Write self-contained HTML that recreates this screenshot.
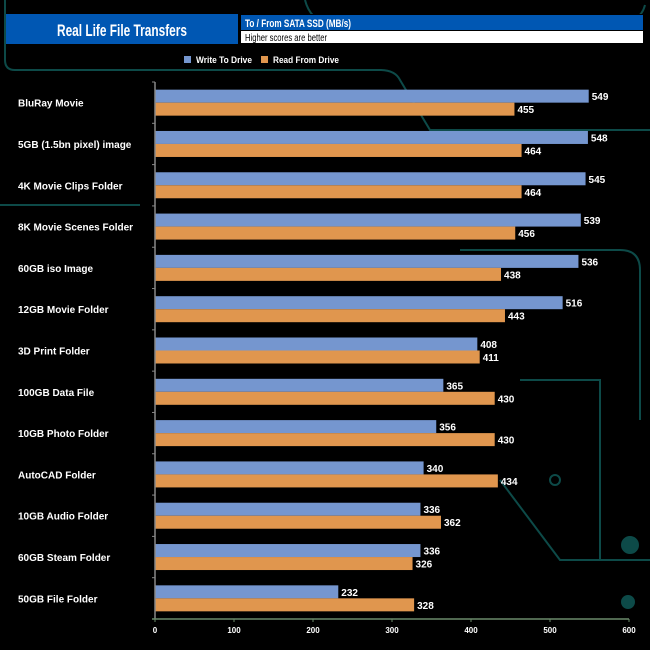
<!DOCTYPE html>
<html><head><meta charset="utf-8"><style>
body{margin:0;background:#000;}
svg{display:block;font-family:"Liberation Sans",Arial,sans-serif;}
</style></head><body>
<svg id="chart" width="650" height="650" viewBox="0 0 650 650">
<g stroke="#0d4a48" stroke-width="2" fill="none">
<path d="M5 0 V60 Q5 70 15 70 H380 Q395 70 400 80 L430 130 H650"/>
<path d="M305 0 Q310 20 330 25 H610 Q640 25 645 5"/>
<path d="M460 250 H620 Q640 250 640 270 V420"/>
<path d="M500 480 L560 560 H650"/>
<path d="M0 205 H140"/>
<path d="M520 380 H600 V560"/>
<circle cx="630" cy="545" r="8" fill="#0d4a48"/>
<circle cx="628" cy="602" r="6" fill="#0d4a48"/>
<circle cx="555" cy="480" r="5"/>
</g>
<rect x="6" y="14" width="232" height="30" fill="#0057b3"/>
<text x="57" y="36" textLength="130" lengthAdjust="spacingAndGlyphs" fill="#fff" font-size="17" font-weight="bold">Real Life File Transfers</text>
<rect x="238" y="14" width="406" height="30" fill="#000"/>
<rect x="241" y="15" width="402" height="15" fill="#0057b3"/>
<text x="245" y="27" textLength="106" lengthAdjust="spacingAndGlyphs" fill="#fff" font-size="11" font-weight="bold">To /  From SATA SSD (MB/s)</text>
<rect x="241" y="31" width="402" height="12" fill="#fff"/>
<text x="245" y="41" textLength="82" lengthAdjust="spacingAndGlyphs" fill="#000" font-size="10">Higher scores are better</text>
<g font-size="9" font-weight="bold" fill="#fff">
<rect x="184" y="56" width="7" height="7" fill="#7596cf"/>
<text x="196" y="63" textLength="56" lengthAdjust="spacingAndGlyphs">Write To  Drive</text>
<rect x="261" y="56" width="7" height="7" fill="#e0964e"/>
<text x="273" y="63" textLength="66" lengthAdjust="spacingAndGlyphs">Read From  Drive</text>
</g>
<g id="plot"></g>
</svg>
<script>
const categories=["BluRay Movie","5GB (1.5bn pixel) image","4K Movie Clips Folder","8K Movie Scenes Folder","60GB iso Image","12GB Movie Folder","3D Print Folder","100GB Data File","10GB Photo Folder","AutoCAD Folder","10GB Audio Folder","60GB Steam Folder","50GB File Folder"];
const writeValues=[549,548,545,539,536,516,408,365,356,340,336,336,232];
const readValues=[455,464,464,456,438,443,411,430,430,434,362,326,328];
const xTicks=[0,100,200,300,400,500,600];
const NS="http://www.w3.org/2000/svg";
const plot=document.getElementById('plot');
const x0=155,x1=629,xMax=600,yTop=82,yBot=619;
const xs=v=>x0+(x1-x0)*v/xMax;
const band=(yBot-yTop)/categories.length;
const yc=i=>yTop+band*(i+0.5);
function mk(tag,attrs,parent){const e=document.createElementNS(NS,tag);for(const k in attrs)e.setAttribute(k,attrs[k]);(parent||plot).appendChild(e);return e;}
categories.forEach((c,i)=>{
 const y=yc(i);
 const t=mk('text',{x:18,y:y+4,fill:'#fff','font-size':10,'font-weight':'bold'});t.textContent=c;
 
 
 const b1=mk('rect',{x:x0,y:y-13,width:xs(writeValues[i])-x0,height:13,fill:'#7596cf'});
 
 
 const b2=mk('rect',{x:x0,y:y,width:xs(readValues[i])-x0,height:13,fill:'#e0964e'});
 
 
 const l1=mk('text',{x:xs(writeValues[i])+3,y:y-2.5,fill:'#fff','font-size':10,'font-weight':'bold'});l1.textContent=writeValues[i];
 
 
 const l2=mk('text',{x:xs(readValues[i])+3,y:y+10.5,fill:'#fff','font-size':10,'font-weight':'bold'});l2.textContent=readValues[i];
 
 
 const tk=mk('line',{x1:x0-3,x2:x0,y1:yTop+band*i,y2:yTop+band*i,stroke:'#888'});
 
 
});
const ya=mk('line',{x1:x0,x2:x0,y1:yTop,y2:yBot,stroke:'#888','stroke-width':1.5});


const xa=mk('line',{x1:x0-3,x2:x1,y1:yBot,y2:yBot,stroke:'#6a8a6a','stroke-width':1.5});


xTicks.forEach(v=>{
 const tl=mk('line',{x1:xs(v),x2:xs(v),y1:yBot,y2:yBot+3,stroke:'#6a8a6a'});
 
 
 const t=mk('text',{x:xs(v),y:yBot+14,fill:'#fff','font-size':8,'font-weight':'bold','text-anchor':'middle'});t.textContent=v;
 
 
});
</script>
</body></html>
